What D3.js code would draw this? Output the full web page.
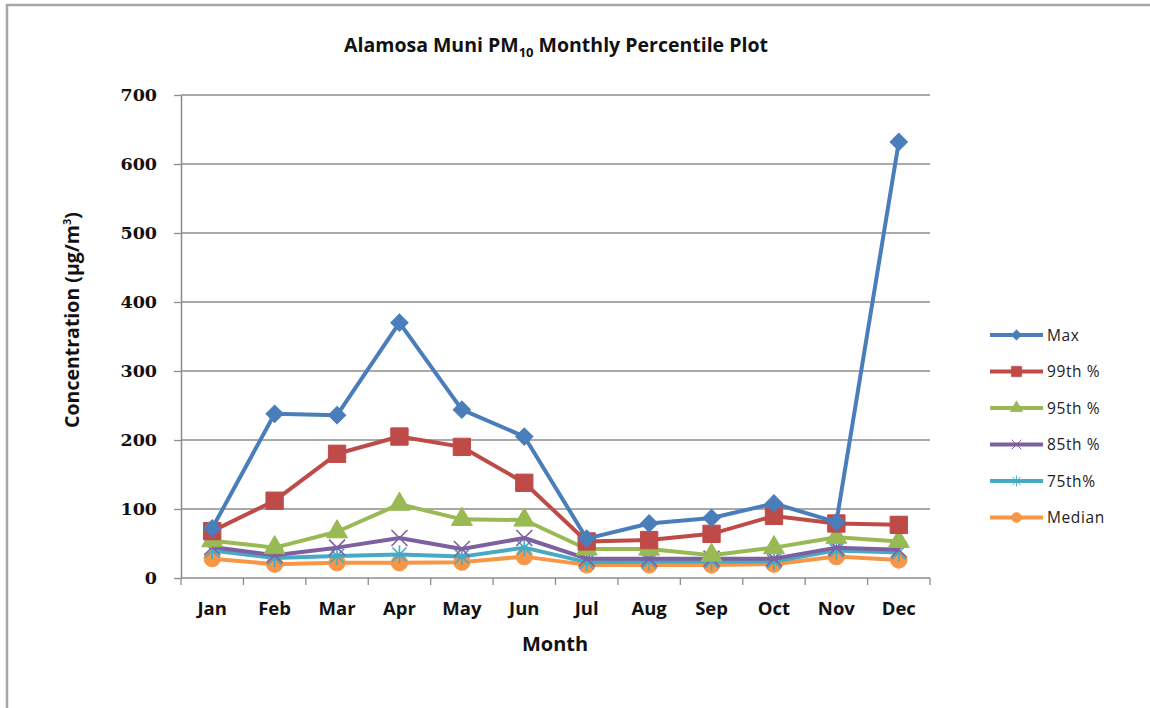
<!DOCTYPE html>
<html>
<head>
<meta charset="utf-8">
<script src="https://cdn.jsdelivr.net/npm/d3@7"></script>
<style>
  html, body { margin: 0; padding: 0; background: #fff; }
  svg { display: block; }
</style>
</head>
<body>
<script>
// Monthly PM10 percentile concentrations (µg/m³), Alamosa Muni
const months = ["Jan","Feb","Mar","Apr","May","Jun","Jul","Aug","Sep","Oct","Nov","Dec"];
const maxVals   = [72, 238, 236, 370, 244, 205, 57, 79, 87, 108, 81, 632];
const p99Vals   = [68, 112, 180, 205, 190, 138, 53, 55, 64, 90, 79, 77];
const p95Vals   = [54, 44, 67, 107, 85, 84, 42, 42, 33, 44, 59, 53];
const p85Vals   = [45, 33, 44, 58, 42, 58, 28, 28, 28, 28, 44, 41];
const p75Vals   = [40, 29, 32, 34, 31, 44, 23, 24, 24, 24, 40, 37];
const medianVals= [28, 20, 22, 22, 23, 31, 19, 19, 19, 20, 31, 26];
const yTicks = [0, 100, 200, 300, 400, 500, 600, 700];

const seriesNames  = ["Max", "99th %", "95th %", "85th %", "75th%", "Median"];
const seriesColors = ["#4a7ebb", "#be4b48", "#98b954", "#7d60a0", "#46aac5", "#f79646"];
const seriesMarks  = ["diamond", "square", "triangle", "x", "star", "circle"];
const seriesVals   = [maxVals, p99Vals, p95Vals, p85Vals, p75Vals, medianVals];

const W = 1150, H = 708;
const plot = { left: 181, right: 930, top: 95, bottom: 578 };
const sansFont = "'Open Sans', sans-serif";

const svg = d3.select("body").append("svg").attr("width", W).attr("height", H);

// outer frame (top and left edges)
svg.append("path")
  .attr("d", `M7,708 L7,5 L1150,5`)
  .attr("fill", "none").attr("stroke", "#a6a6a6").attr("stroke-width", 2.5);

const x = d3.scaleBand().domain(months).range([plot.left, plot.right]);
const y = d3.scaleLinear().domain([0, 700]).range([plot.bottom, plot.top]);
const cx = m => x(m) + x.bandwidth() / 2;

// gridlines
svg.append("g").selectAll("line").data(yTicks.filter(d => d > 0)).join("line")
  .attr("x1", plot.left).attr("x2", plot.right)
  .attr("y1", d => y(d)).attr("y2", d => y(d))
  .attr("stroke", "#8c8c8c").attr("stroke-width", 1.3);

// y axis
const yAxis = svg.append("g").attr("transform", `translate(${plot.left},0)`)
  .call(d3.axisLeft(y).tickValues(yTicks).tickSize(7).tickPadding(17).tickSizeOuter(0));
yAxis.select(".domain").attr("stroke", "#8c8c8c").attr("stroke-width", 1.5);
yAxis.selectAll(".tick line").attr("stroke", "#8c8c8c").attr("stroke-width", 1.3);
yAxis.selectAll(".tick text")
  .attr("font-family", "'DejaVu Serif', 'Liberation Serif', serif")
  .attr("font-weight", "bold").attr("font-size", 17.5).attr("fill", "#111");

// x axis with ticks between categories
const xAxis = svg.append("g").attr("transform", `translate(0,${plot.bottom})`);
xAxis.append("line").attr("x1", plot.left).attr("x2", plot.right)
  .attr("stroke", "#8c8c8c").attr("stroke-width", 1.5);
const bounds = months.map(m => x(m)).concat([plot.right]);
xAxis.selectAll("line.tk").data(bounds).join("line").attr("class", "tk")
  .attr("x1", d => d).attr("x2", d => d).attr("y1", 0).attr("y2", 7)
  .attr("stroke", "#8c8c8c").attr("stroke-width", 1.3);
xAxis.selectAll("text").data(months).join("text")
  .attr("x", d => cx(d)).attr("y", 37)
  .attr("text-anchor", "middle")
  .attr("font-family", sansFont).attr("font-weight", "bold")
  .attr("font-size", 18.5).attr("fill", "#111").text(d => d);

// axis titles
svg.append("text").attr("x", 555).attr("y", 651).attr("text-anchor", "middle")
  .attr("font-family", sansFont).attr("font-weight", "bold")
  .attr("font-size", 20).attr("fill", "#111").text("Month");

const yTitle = svg.append("text")
  .attr("transform", `translate(79,320) rotate(-90)`).attr("text-anchor", "middle")
  .attr("font-family", sansFont).attr("font-weight", "bold")
  .attr("font-size", 19.5).attr("fill", "#111");
yTitle.append("tspan").text("Concentration (µg/m");
yTitle.append("tspan").attr("font-size", 11).attr("dy", -8).text("3");
yTitle.append("tspan").attr("dy", 8).text(")");

// chart title
const title = svg.append("text").attr("x", 556).attr("y", 52).attr("text-anchor", "middle")
  .attr("font-family", sansFont).attr("font-weight", "bold")
  .attr("font-size", 19.5).attr("fill", "#111");
title.append("tspan").text("Alamosa Muni PM");
title.append("tspan").attr("font-size", 13).attr("dy", 5).text("10");
title.append("tspan").attr("dy", -5).text(" Monthly Percentile Plot");

// marker drawing
const sym = {
  diamond: d3.symbol().type(d3.symbolSquare).size(150),
  square: d3.symbol().type(d3.symbolSquare).size(300),
  triangle: d3.symbol().type(d3.symbolTriangle).size(190),
  circle: d3.symbol().type(d3.symbolCircle).size(210)
};
function drawMarker(g, kind, color, px, py) {
  if (kind === "x") {
    g.append("path").attr("d", "M-8,-8L8,8M-8,8L8,-8").attr("transform", `translate(${px},${py})`)
      .attr("stroke", color).attr("stroke-width", 1.6).attr("fill", "none");
  } else if (kind === "star") {
    g.append("path").attr("d", "M-7,-7L7,7M-7,7L7,-7M0,-9L0,9").attr("transform", `translate(${px},${py})`)
      .attr("stroke", color).attr("stroke-width", 1.6).attr("fill", "none");
  } else {
    const rot = kind === "diamond" ? " rotate(45)" : "";
    g.append("path").attr("d", sym[kind]()).attr("transform", `translate(${px},${py})${rot}`)
      .attr("fill", color).attr("stroke", color).attr("stroke-width", 1);
  }
}

// series, drawn lowest first so Max sits on top
const line = d3.line().x((d, i) => cx(months[i])).y(d => y(d));
for (let s = seriesNames.length - 1; s >= 0; s--) {
  const g = svg.append("g");
  g.append("path").datum(seriesVals[s]).attr("d", line)
    .attr("fill", "none").attr("stroke", seriesColors[s]).attr("stroke-width", 4)
    .attr("stroke-linejoin", "round");
  seriesVals[s].forEach((v, i) => drawMarker(g, seriesMarks[s], seriesColors[s], cx(months[i]), y(v)));
}

// legend
const legend = svg.append("g");
seriesNames.forEach((name, i) => {
  const ly = 335 + i * 36.5;
  legend.append("line").attr("x1", 990).attr("x2", 1043).attr("y1", ly).attr("y2", ly)
    .attr("stroke", seriesColors[i]).attr("stroke-width", 4);
  const mg = legend.append("g").attr("transform", `translate(1016.5,${ly}) scale(0.6)`);
  drawMarker(mg, seriesMarks[i], seriesColors[i], 0, 0);
  legend.append("text").attr("x", 1047).attr("y", ly + 5.5)
    .attr("font-family", sansFont).attr("font-size", 15.5).attr("letter-spacing", 0.6)
    .attr("fill", "#222").text(name);
});
</script>
</body>
</html>
